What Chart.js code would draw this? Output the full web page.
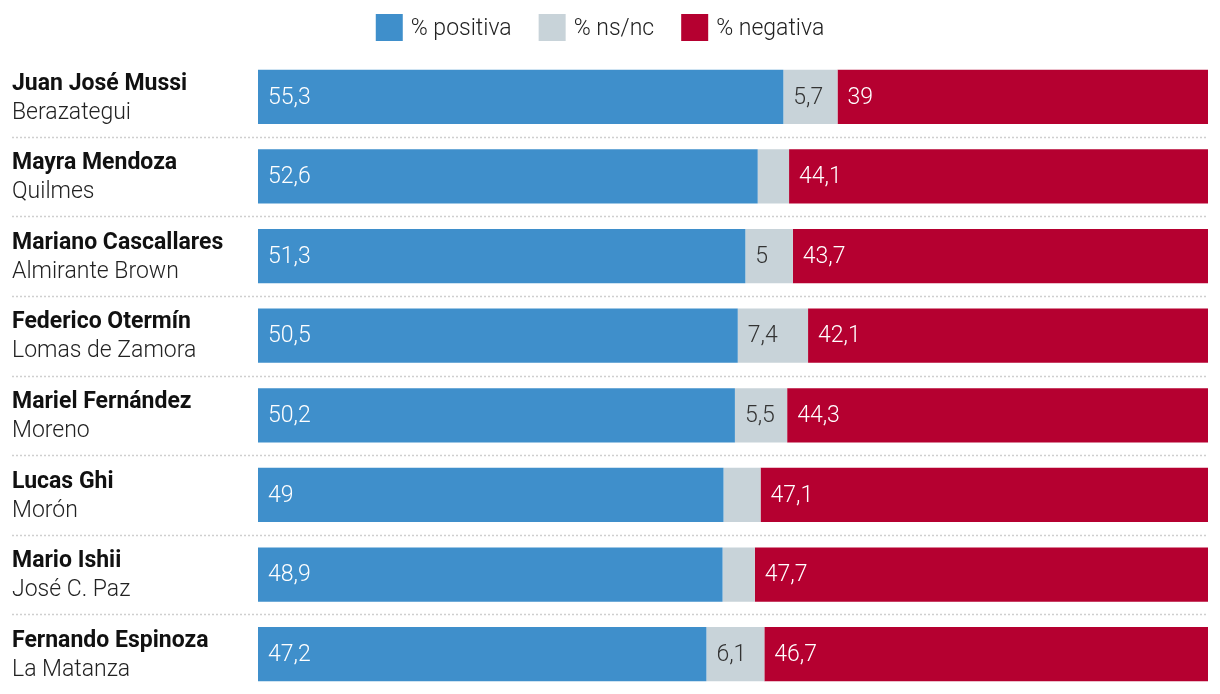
<!DOCTYPE html>
<html>
<head>
<meta charset="utf-8">
<script src="https://cdn.jsdelivr.net/npm/chart.js@4/dist/chart.umd.min.js"></script>
<style>
html,body{margin:0;padding:0;background:#fff;}
#wrap{width:1220px;height:694px;position:relative;}
</style>
</head>
<body>
<div id="wrap"><canvas id="c" width="1220" height="694"></canvas></div>
<script>
const names = ["Juan José Mussi","Mayra Mendoza","Mariano Cascallares","Federico Otermín","Mariel Fernández","Lucas Ghi","Mario Ishii","Fernando Espinoza"];
const districts = ["Berazategui","Quilmes","Almirante Brown","Lomas de Zamora","Moreno","Morón","José C. Paz","La Matanza"];
const positiva = [55.3,52.6,51.3,50.5,50.2,49,48.9,47.2];
const nsnc = [5.7,3.3,5,7.4,5.5,3.9,3.4,6.1];
const negativa = [39,44.1,43.7,42.1,44.3,47.1,47.7,46.7];
const seriesNames = ["% positiva","% ns/nc","% negativa"];
const colors = ["#3f8fcb","#c8d3d9","#b50030"];
const labelColors = ["#ffffff","#333333","#ffffff"];

const FONT = "Roboto, 'Liberation Sans', sans-serif";
const fmt = v => String(v).replace('.', ',');

const overlay = {
  id:'overlay',
  afterDatasetsDraw(chart){
    const ctx = chart.ctx;
    const y = chart.scales.y;
    const area = chart.chartArea;
    ctx.save();
    chart.data.datasets.forEach((ds,di)=>{
      const meta = chart.getDatasetMeta(di);
      meta.data.forEach((el,i)=>{
        const v = ds.data[i];
        if (di===1 && v < 4.5) return;
        const left = Math.min(el.x, el.base);
        ctx.font = "300 23px " + FONT;
        ctx.fillStyle = labelColors[di];
        ctx.textAlign = 'left';
        ctx.textBaseline = 'middle';
        ctx.fillText(fmt(v), left + 10, el.y + 1);
      });
    });
    const step = Math.abs(y.getPixelForValue(1) - y.getPixelForValue(0));
    names.forEach((n,i)=>{
      const cy = y.getPixelForValue(i);
      ctx.textAlign='left'; ctx.textBaseline='middle';
      ctx.fillStyle = '#111';
      ctx.font = "bold 23px " + FONT;
      ctx.fillText(n, 12, cy - 13);
      ctx.fillStyle = '#222';
      ctx.font = "300 23px " + FONT;
      ctx.fillText(districts[i], 12, cy + 16);
      if (i < names.length - 1) {
        const sy = Math.round(cy + step/2) + 0.5;
        ctx.strokeStyle = '#cfcfcf';
        ctx.lineWidth = 1.5;
        ctx.setLineDash([2,2]);
        ctx.beginPath(); ctx.moveTo(12, sy); ctx.lineTo(area.right, sy); ctx.stroke();
        ctx.setLineDash([]);
      }
    });
    ctx.font = "300 23px " + FONT;
    const box = 27, gapText = 8, gapItem = 27;
    let widths = seriesNames.map(s => box + gapText + ctx.measureText(s).width);
    let total = widths.reduce((a,b)=>a+b,0) + gapItem*(seriesNames.length-1);
    let x = 600 - total/2;
    seriesNames.forEach((s,i)=>{
      ctx.fillStyle = colors[i];
      ctx.fillRect(x, 14, box, box);
      ctx.fillStyle = '#222';
      ctx.textBaseline='middle';
      ctx.fillText(s, x + box + gapText, 29);
      x += widths[i] + gapItem;
    });
    ctx.restore();
  }
};

new Chart(document.getElementById('c'), {
  type:'bar',
  data:{
    labels: names,
    datasets: seriesNames.map((s,i)=>({
      label: s,
      data: [positiva,nsnc,negativa][i],
      backgroundColor: colors[i],
      borderWidth: 0,
      barPercentage: 0.68,
      categoryPercentage: 1
    }))
  },
  options:{
    indexAxis:'y',
    responsive:false,
    animation:false,
    layout:{padding:{left:258,right:12,top:57,bottom:0}},
    plugins:{legend:{display:false},tooltip:{enabled:false}},
    scales:{
      x:{stacked:true,min:0,max:100,display:false},
      y:{stacked:true,display:false}
    }
  },
  plugins:[overlay]
});
</script>
</body>
</html>
